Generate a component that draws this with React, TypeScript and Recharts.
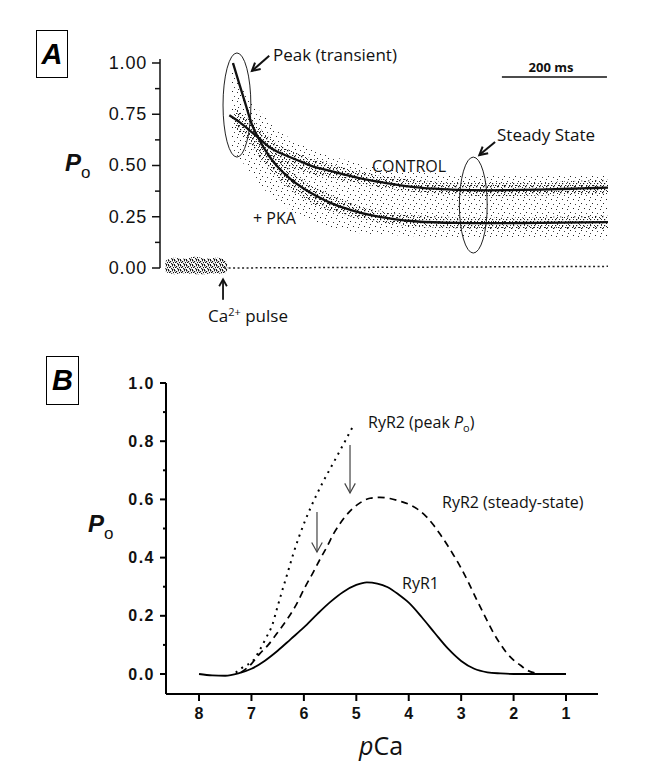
import React from 'react'
import { ComposedChart, Line, Area, XAxis, YAxis, ReferenceLine, ReferenceArea } from 'recharts'

// ---------- Panel A: Po vs time after the Ca2+ pulse (ms) ----------
const controlTime = [10, 30, 48, 70, 86, 105, 126, 150, 173, 200, 229, 255, 284, 320, 362, 400, 442, 500, 600, 680, 731]
const controlPo = [0.745, 0.71, 0.673, 0.625, 0.59, 0.563, 0.54, 0.515, 0.492, 0.475, 0.456, 0.44, 0.425, 0.41, 0.395, 0.387, 0.381, 0.379, 0.382, 0.388, 0.392]

const pkaTime = [17, 30, 42, 53, 65, 86, 105, 126, 150, 175, 205, 245, 284, 320, 362, 442, 520, 600, 731]
const pkaPo = [1.0, 0.89, 0.79, 0.7, 0.635, 0.545, 0.485, 0.435, 0.39, 0.352, 0.315, 0.28, 0.255, 0.24, 0.228, 0.22, 0.219, 0.22, 0.224]

const zeroTime = [0, 731]
const zeroPo = [0, 0.008]

// scatter clouds (low / high edges)
const cloudTime = [15, 40, 70, 100, 150, 200, 260, 330, 420, 520, 620, 731]
const cloudLow = [0.58, 0.5, 0.4, 0.33, 0.25, 0.2, 0.17, 0.16, 0.15, 0.15, 0.14, 0.14]
const cloudHigh = [1.0, 0.85, 0.76, 0.68, 0.6, 0.55, 0.51, 0.48, 0.46, 0.45, 0.45, 0.45]

const ctrlBandTime = [20, 60, 100, 150, 200, 260, 330, 420, 520, 620, 731]
const ctrlBandLow = [0.68, 0.6, 0.52, 0.47, 0.44, 0.41, 0.38, 0.36, 0.35, 0.355, 0.36]
const ctrlBandHigh = [0.78, 0.7, 0.61, 0.55, 0.51, 0.47, 0.44, 0.42, 0.415, 0.42, 0.43]

const pkaBandTime = [50, 80, 110, 150, 200, 260, 330, 420, 520, 620, 731]
const pkaBandLow = [0.6, 0.5, 0.42, 0.34, 0.28, 0.24, 0.21, 0.195, 0.19, 0.19, 0.19]
const pkaBandHigh = [0.74, 0.62, 0.52, 0.43, 0.36, 0.3, 0.265, 0.25, 0.245, 0.25, 0.255]

const baseTime = [-112, -95, -75, -55, -35, -15, 0, 6]
const baseLow = [-0.02, -0.03, -0.025, -0.03, -0.03, -0.025, -0.03, -0.01]
const baseHigh = [0.035, 0.05, 0.045, 0.055, 0.045, 0.05, 0.045, 0.02]

const aTicks = [0, 0.125, 0.25, 0.375, 0.5, 0.625, 0.75, 0.875, 1]

// ---------- Panel B: Po vs pCa ----------
const ryr1PCa = [8.0, 7.75, 7.5, 7.25, 7.0, 6.75, 6.5, 6.25, 6.0, 5.75, 5.5, 5.25, 5.0, 4.8, 4.6, 4.4, 4.2, 4.0, 3.75, 3.5, 3.25, 3.0, 2.75, 2.5, 2.25, 2.0, 1.5, 1.0]
const ryr1Po = [0.0, -0.005, -0.006, 0.002, 0.018, 0.045, 0.08, 0.12, 0.16, 0.205, 0.247, 0.282, 0.306, 0.315, 0.311, 0.298, 0.274, 0.245, 0.195, 0.14, 0.087, 0.045, 0.018, 0.006, 0.002, 0.0, 0.0, 0.0]

const peakPCa = [7.3, 7.15, 6.96, 6.85, 6.71, 6.6, 6.52, 6.44, 6.36, 6.28, 6.2, 6.1, 5.98, 5.87, 5.76, 5.63, 5.5, 5.37, 5.25, 5.15, 5.06]
const peakPo = [0.005, 0.025, 0.048, 0.08, 0.128, 0.17, 0.22, 0.27, 0.318, 0.366, 0.414, 0.468, 0.525, 0.572, 0.615, 0.662, 0.705, 0.748, 0.788, 0.822, 0.852]

const steadyPCa = [7.2, 7.0, 6.84, 6.68, 6.52, 6.33, 6.14, 5.98, 5.82, 5.69, 5.56, 5.44, 5.31, 5.12, 4.93, 4.74, 4.55, 4.36, 4.17, 3.98, 3.82, 3.66, 3.52, 3.4, 3.27, 3.15, 3.02, 2.89, 2.7, 2.51, 2.38, 2.26, 2.13, 2.0, 1.87, 1.75, 1.56]
const steadyPo = [0.005, 0.035, 0.07, 0.1, 0.138, 0.185, 0.24, 0.298, 0.35, 0.395, 0.437, 0.48, 0.517, 0.56, 0.588, 0.604, 0.607, 0.603, 0.594, 0.582, 0.565, 0.54, 0.51, 0.48, 0.445, 0.41, 0.37, 0.325, 0.254, 0.185, 0.14, 0.105, 0.072, 0.048, 0.03, 0.014, 0.002]

const bYTicks = [0, 0.1, 0.2, 0.3, 0.4, 0.5, 0.6, 0.7, 0.8, 0.9, 1.0]
const bXTicks = [8, 7, 6, 5, 4, 3, 2, 1]

const zip = (xs: number[], ys: number[], kx: string, ky: string) => xs.map((x, i) => ({ [kx]: x, [ky]: ys[i] }))
const band = (xs: number[], lo: number[], hi: number[]) => xs.map((t, i) => ({ t, range: [lo[i], hi[i]] }))

const SANS = '"Liberation Sans", Arial, sans-serif'
const CAL = '"Open Sans", Lato, sans-serif'

function Txt({ x, y, anchor = 'start', size = 16, weight = 400, family = CAL, children }: any) {
  const tx = anchor === 'middle' ? '-50%' : anchor === 'end' ? '-100%' : '0'
  return (
    <div style={{ position: 'absolute', left: x, top: y, transform: `translate(${tx}, -50%)`, fontSize: size, fontWeight: weight, fontFamily: family, lineHeight: 1, whiteSpace: 'nowrap', color: '#111' }}>
      {children}
    </div>
  )
}

const Po = ({ x, y }: { x: number; y: number }) => (
  <Txt x={x} y={y} size={24} family={SANS}>
    <span style={{ fontStyle: 'italic', fontWeight: 700 }}>P</span>
    <span style={{ fontSize: 17, position: 'relative', top: 7 }}>o</span>
  </Txt>
)

const Box = ({ x, y, w, h, label }: any) => (
  <div style={{ position: 'absolute', left: x, top: y, width: w, height: h, border: '1px solid #000', boxSizing: 'border-box', display: 'flex', alignItems: 'center', justifyContent: 'center', fontFamily: SANS, fontWeight: 700, fontStyle: 'italic', fontSize: 29 }}>
    {label}
  </div>
)

const arrowShape = (color: string, width: number, head: number) => (p: any) => {
  const { x1, y1, x2, y2 } = p
  const a = Math.atan2(y2 - y1, x2 - x1)
  const s = 0.5
  const ax = x2 - head * Math.cos(a - s)
  const ay = y2 - head * Math.sin(a - s)
  const bx = x2 - head * Math.cos(a + s)
  const by = y2 - head * Math.sin(a + s)
  return (
    <g>
      <line x1={x1} y1={y1} x2={x2} y2={y2} stroke={color} strokeWidth={width} />
      <polyline points={`${ax},${ay} ${x2},${y2} ${bx},${by}`} fill="none" stroke={color} strokeWidth={width} />
    </g>
  )
}

const ellipseShape = (p: any) => (
  <ellipse cx={p.x + p.width / 2} cy={p.y + p.height / 2} rx={p.width / 2} ry={p.height / 2} fill="none" stroke="#222" strokeWidth={1} />
)

const ATick = (p: any) => {
  const major = p.index % 2 === 0
  return (
    <g>
      <line x1={p.x - (major ? 8 : 5)} x2={p.x} y1={p.y} y2={p.y} stroke="#111" strokeWidth={1.5} />
      {major && (
        <text x={p.x - 13} y={p.y} textAnchor="end" dominantBaseline="central" fontFamily={SANS} fontSize={18} letterSpacing={0.8} fill="#111">
          {Number(p.payload.value).toFixed(2)}
        </text>
      )}
    </g>
  )
}

const BYTick = (p: any) => {
  const major = p.index % 2 === 0
  return (
    <g>
      <line x1={p.x - (major ? 6 : 3)} x2={p.x} y1={p.y} y2={p.y} stroke="#000" strokeWidth={2} />
      {major && (
        <text x={p.x - 11} y={p.y} textAnchor="end" dominantBaseline="central" fontFamily={SANS} fontWeight={700} fontSize={16} letterSpacing={1.5} fill="#111">
          {Number(p.payload.value).toFixed(1)}
        </text>
      )}
    </g>
  )
}

const BXTick = (p: any) => (
  <g>
    <line x1={p.x} x2={p.x} y1={p.y} y2={p.y + 7} stroke="#000" strokeWidth={2} />
    <text x={p.x} y={p.y + 19} textAnchor="middle" dominantBaseline="central" fontFamily={SANS} fontWeight={700} fontSize={16} fill="#111">
      {p.payload.value}
    </text>
  </g>
)

function PanelA() {
  return (
    <ComposedChart width={649} height={340} margin={{ top: 47, right: 41, bottom: 60, left: 100 }}>
      <defs>
        <pattern id="spSparse" width="11" height="9" patternUnits="userSpaceOnUse">
          <rect x="1" y="1" width="1" height="1" fill="#222" />
          <rect x="6" y="2" width="1" height="1" fill="#333" />
          <rect x="9" y="5" width="1" height="1" fill="#222" />
          <rect x="3" y="6" width="1" height="1" fill="#444" />
          <rect x="7" y="8" width="1" height="1" fill="#333" />
        </pattern>
        <pattern id="spMid" width="7" height="6" patternUnits="userSpaceOnUse">
          <rect x="0" y="0" width="1.3" height="1.3" fill="#111" />
          <rect x="4" y="1" width="1" height="1" fill="#222" />
          <rect x="2" y="3" width="1.2" height="1.2" fill="#111" />
          <rect x="6" y="3" width="1" height="1" fill="#333" />
          <rect x="1" y="5" width="1" height="1" fill="#222" />
          <rect x="5" y="5" width="1.3" height="1" fill="#111" />
        </pattern>
        <pattern id="spDense" width="6" height="5" patternUnits="userSpaceOnUse">
          <rect x="0" y="0" width="1.4" height="1.4" fill="#111" />
          <rect x="2" y="1" width="1.2" height="1.2" fill="#111" />
          <rect x="4" y="0" width="1" height="1.3" fill="#222" />
          <rect x="1" y="2" width="1.3" height="1" fill="#111" />
          <rect x="5" y="2" width="1.2" height="1.2" fill="#111" />
          <rect x="3" y="3" width="1.2" height="1.3" fill="#222" />
          <rect x="0" y="4" width="1" height="1" fill="#111" />
          <rect x="4" y="4" width="1.3" height="1" fill="#111" />
        </pattern>
      </defs>
      <XAxis type="number" dataKey="t" domain={[-122, 731]} hide />
      <YAxis type="number" domain={[-0.0585, 1.078]} ticks={aTicks} interval={0} width={60} axisLine={false} tickLine={false} tickSize={0} tickMargin={0} tick={ATick} />

      <Area data={band(cloudTime, cloudLow, cloudHigh)} dataKey="range" type="monotone" stroke="none" fill="url(#spSparse)" fillOpacity={1} isAnimationActive={false} />
      <Area data={band(ctrlBandTime, ctrlBandLow, ctrlBandHigh)} dataKey="range" type="monotone" stroke="none" fill="url(#spMid)" fillOpacity={1} isAnimationActive={false} />
      <Area data={band(pkaBandTime, pkaBandLow, pkaBandHigh)} dataKey="range" type="monotone" stroke="none" fill="url(#spMid)" fillOpacity={1} isAnimationActive={false} />
      <Area data={band(baseTime, baseLow, baseHigh)} dataKey="range" type="monotone" stroke="none" fill="url(#spDense)" fillOpacity={1} isAnimationActive={false} />

      <Line data={zip(zeroTime, zeroPo, 't', 'po')} dataKey="po" stroke="#222" strokeWidth={1.5} strokeDasharray="2 2.5" dot={false} isAnimationActive={false} />
      <Line data={zip(controlTime, controlPo, 't', 'po')} dataKey="po" type="monotone" stroke="#111" strokeWidth={2.3} dot={false} isAnimationActive={false} />
      <Line data={zip(pkaTime, pkaPo, 't', 'po')} dataKey="po" type="monotone" stroke="#111" strokeWidth={2.3} dot={false} isAnimationActive={false} />

      {/* y axis line */}
      <ReferenceLine segment={[{ x: -122, y: 0 }, { x: -122, y: 1.02 }]} stroke="#111" strokeWidth={1.5} />
      {/* 200 ms scale bar */}
      <ReferenceLine segment={[{ x: 529, y: 0.932 }, { x: 729, y: 0.932 }]} stroke="#111" strokeWidth={1.5} />

      <ReferenceArea x1={-2} x2={51} y1={0.541} y2={1.049} shape={ellipseShape} />
      <ReferenceArea x1={448} x2={501} y1={0.073} y2={0.541} shape={ellipseShape} />

      <ReferenceLine segment={[{ x: 86, y: 1.035 }, { x: 53, y: 0.961 }]} shape={arrowShape('#111', 2, 9)} />
      <ReferenceLine segment={[{ x: 516, y: 0.615 }, { x: 486, y: 0.551 }]} shape={arrowShape('#111', 2, 9)} />
      <ReferenceLine segment={[{ x: -2, y: -0.155 }, { x: -2, y: -0.055 }]} ifOverflow="visible" shape={arrowShape('#111', 1.8, 8)} />
    </ComposedChart>
  )
}

function PanelB() {
  return (
    <ComposedChart width={649} height={434} margin={{ top: 43, right: 51, bottom: 50, left: 106 }}>
      <XAxis type="number" dataKey="pCa" domain={[0.39, 8.63]} reversed ticks={bXTicks} interval={0} height={30} axisLine={{ stroke: '#000', strokeWidth: 2 }} tickLine={false} tickSize={0} tickMargin={0} tick={BXTick} />
      <YAxis type="number" domain={[-0.0687, 1.0]} ticks={bYTicks} interval={0} width={60} axisLine={{ stroke: '#000', strokeWidth: 2 }} tickLine={false} tickSize={0} tickMargin={0} tick={BYTick} />

      <Line data={zip(ryr1PCa, ryr1Po, 'pCa', 'po')} dataKey="po" type="monotone" stroke="#000" strokeWidth={1.8} dot={false} isAnimationActive={false} />
      <Line data={zip(steadyPCa, steadyPo, 'pCa', 'po')} dataKey="po" type="monotone" stroke="#000" strokeWidth={1.7} strokeDasharray="7 5" dot={false} isAnimationActive={false} />
      <Line data={zip(peakPCa, peakPo, 'pCa', 'po')} dataKey="po" type="monotone" stroke="#000" strokeWidth={2} strokeDasharray="2 5" dot={false} isAnimationActive={false} />

      <ReferenceLine segment={[{ x: 5.12, y: 0.787 }, { x: 5.12, y: 0.622 }]} shape={arrowShape('#444', 1.2, 11)} />
      <ReferenceLine segment={[{ x: 5.75, y: 0.557 }, { x: 5.75, y: 0.419 }]} shape={arrowShape('#444', 1.2, 11)} />
    </ComposedChart>
  )
}

export default function App() {
  return (
    <div style={{ position: 'absolute', left: 0, top: 0, width: 649, height: 774, background: '#fff', overflow: 'hidden' }}>
      <div style={{ position: 'absolute', left: 0, top: 0 }}>
        <PanelA />
      </div>
      <div style={{ position: 'absolute', left: 0, top: 340 }}>
        <PanelB />
      </div>

      <Box x={36} y={30} w={32} h={48} label="A" />
      <Box x={46} y={356} w={33} h={49} label="B" />

      <Po x={65} y={163} />
      <Po x={88} y={524} />

      <Txt x={273} y={54} size={17}>Peak (transient)</Txt>
      <Txt x={497} y={134} size={17}>Steady State</Txt>
      <Txt x={372} y={166} size={16}>CONTROL</Txt>
      <Txt x={253} y={218} size={16}>+ PKA</Txt>
      <Txt x={551} y={67} anchor="middle" size={13} weight={700}>200 ms</Txt>
      <Txt x={208} y={315} size={17}>
        Ca<span style={{ fontSize: 11, position: 'relative', top: -6 }}>2+</span> pulse
      </Txt>

      <Txt x={368} y={422} size={16}>
        RyR2 (peak <span style={{ fontStyle: 'italic' }}>P</span>
        <span style={{ fontSize: 11, position: 'relative', top: 4 }}>o</span>)
      </Txt>
      <Txt x={442} y={502} size={16}>RyR2 (steady-state)</Txt>
      <Txt x={402} y={583} size={16}>RyR1</Txt>
      <Txt x={381} y={745} anchor="middle" size={25}>
        <span style={{ fontStyle: 'italic' }}>p</span>Ca
      </Txt>
    </div>
  )
}
